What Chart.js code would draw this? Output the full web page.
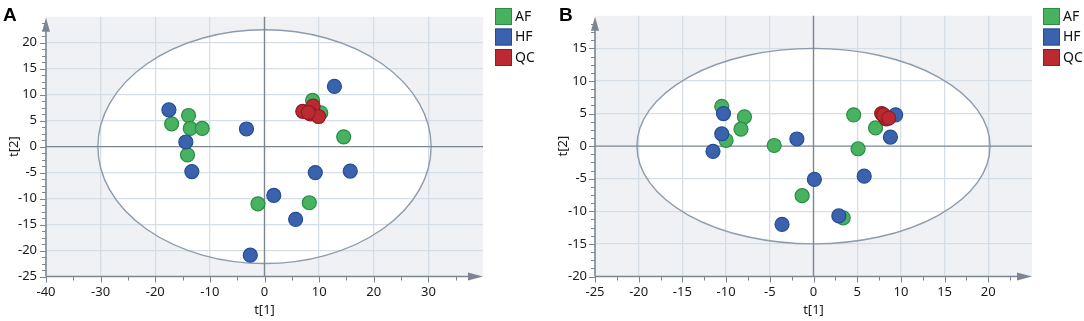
<!DOCTYPE html>
<html>
<head>
<meta charset="utf-8">
<script src="https://cdn.jsdelivr.net/npm/chart.js@4.4.1/dist/chart.umd.min.js"></script>
<style>
  body { margin: 0; background: #fff; width: 1084px; height: 321px; overflow: hidden; position: relative; }
  canvas { position: absolute; top: 0; }
  #chartA { left: 0; }
  #chartB { left: 542px; }
  .tag { position: absolute; top: 4px; font: bold 19px "Liberation Sans", Arial, sans-serif; color: #000; }
</style>
</head>
<body>
<canvas id="chartA" width="542" height="321"></canvas>
<canvas id="chartB" width="542" height="321"></canvas>
<div class="tag" style="left:3px">A</div>
<div class="tag" style="left:559px">B</div>
<script>
// groups and colours
const groups = ["AF", "HF", "QC"];
const fillColors = ["#47b260", "#3b63ad", "#bb2a31"];
const edgeColors = ["#2d8c44", "#244c94", "#8f1c22"];

// panel A scores, [t1, t2]
const afA = [[-17.0, 4.4], [-13.9, 6.0], [-13.6, 3.5], [-11.4, 3.5], [-14.1, -1.6],
             [8.8, 8.9], [10.3, 6.5], [14.5, 1.9], [8.2, -10.8], [-1.2, -11.0]];
const hfA = [[-17.5, 7.1], [-14.4, 0.9], [-13.3, -4.8], [-3.3, 3.4], [12.8, 11.6],
             [9.3, -5.0], [15.7, -4.7], [1.7, -9.4], [5.7, -14.0], [-2.6, -20.9]];
const qcA = [[7.0, 6.8], [8.9, 7.8], [8.4, 6.3], [9.9, 5.8], [8.0, 6.6]];

// panel B scores, [t1, t2]
const afB = [[-10.5, 6.1], [-7.9, 4.5], [-8.3, 2.6], [-10.0, 0.9], [-4.5, 0.1],
             [-1.3, -7.6], [4.6, 4.8], [7.1, 2.8], [5.1, -0.4], [3.4, -11.0]];
const hfB = [[-10.3, 5.0], [-10.5, 1.9], [-11.5, -0.8], [-1.9, 1.1], [0.1, -5.1],
             [-3.6, -12.0], [9.4, 4.8], [8.8, 1.4], [5.8, -4.6], [2.9, -10.7]];
const qcB = [[7.8, 5.0], [8.1, 4.6], [8.3, 4.2], [8.0, 4.8], [8.6, 4.3]];

// axis ranges and steps
const xRangeA = [-40, 40], yRangeA = [-25, 25];
const xStepA = 10, xMinorA = 5, yStepA = 5, yMinorA = 1.25;
const xRangeB = [-25, 25], yRangeB = [-20, 20];
const xStepB = 5, xMinorB = 2.5, yStepB = 5, yMinorB = 1.25;

// Hotelling T2 ellipse radii
const ellipseA = [30.5, 22.5];
const ellipseB = [20.2, 15.0];

const gridColor = "#d5dde7";
const axisColor = "#7c8691";
const tickFont = { family: "'Noto Sans', 'Open Sans', sans-serif", size: 13 };

const toPoints = arr => arr.map(p => ({ x: p[0], y: p[1] }));

function drawAxisDecor(chart, o) {
  const ctx = chart.ctx;
  const a = chart.chartArea;
  const xs = chart.scales.x, ys = chart.scales.y;
  const x0 = xs.getPixelForValue(0), y0 = ys.getPixelForValue(0);
  const rx = xs.getPixelForValue(o.ellipse[0]) - x0;
  const ry = y0 - ys.getPixelForValue(o.ellipse[1]);
  ctx.save();
  // ellipse outline
  ctx.strokeStyle = "#8d9cab";
  ctx.lineWidth = 1.4;
  ctx.beginPath();
  ctx.ellipse(x0, y0, rx, ry, 0, 0, Math.PI * 2);
  ctx.stroke();
  // zero lines
  ctx.strokeStyle = axisColor;
  ctx.lineWidth = 1.4;
  ctx.beginPath();
  ctx.moveTo(x0, a.top); ctx.lineTo(x0, a.bottom);
  ctx.moveTo(a.left, y0); ctx.lineTo(a.right, y0);
  ctx.stroke();
  // axis lines
  ctx.lineWidth = 1.6;
  ctx.beginPath();
  ctx.moveTo(a.left, a.bottom); ctx.lineTo(a.left, a.top + 8);
  ctx.moveTo(a.left, a.bottom); ctx.lineTo(a.right - 8, a.bottom);
  ctx.stroke();
  // arrows
  ctx.fillStyle = axisColor;
  ctx.beginPath();
  ctx.moveTo(a.left, a.top + 1); ctx.lineTo(a.left - 4, a.top + 15); ctx.lineTo(a.left + 4, a.top + 15); ctx.closePath();
  ctx.fill();
  ctx.beginPath();
  ctx.moveTo(a.right, a.bottom); ctx.lineTo(a.right - 15, a.bottom - 4); ctx.lineTo(a.right - 15, a.bottom + 4); ctx.closePath();
  ctx.fill();
  // ticks
  ctx.lineWidth = 1;
  ctx.beginPath();
  for (let v = o.xr[0]; v < o.xr[1] - 1e-6; v += o.xMinor) {
    const px = Math.round(xs.getPixelForValue(v)) + 0.5;
    const major = Math.abs(v / o.xStep - Math.round(v / o.xStep)) < 1e-6;
    ctx.moveTo(px, a.bottom); ctx.lineTo(px, a.bottom + (major ? 6 : 4));
  }
  for (let v = o.yr[0]; v < o.yr[1] - 1e-6; v += o.yMinor) {
    const py = Math.round(ys.getPixelForValue(v)) + 0.5;
    const major = Math.abs(v / o.yStep - Math.round(v / o.yStep)) < 1e-6;
    ctx.moveTo(a.left, py); ctx.lineTo(a.left - (major ? 6 : 4), py);
  }
  ctx.stroke();
  ctx.restore();
}

function drawLegend(chart, lx) {
  const ctx = chart.ctx;
  ctx.save();
  groups.forEach((g, i) => {
    const top = 8 + i * 20.5;
    ctx.fillStyle = fillColors[i];
    ctx.fillRect(lx, top, 17, 17);
    ctx.strokeStyle = edgeColors[i];
    ctx.lineWidth = 1;
    ctx.strokeRect(lx + 0.5, top + 0.5, 16, 16);
    ctx.fillStyle = "#111";
    ctx.font = "14px 'Noto Sans', 'Open Sans', sans-serif";
    ctx.textBaseline = "middle";
    ctx.fillText(g, lx + 20, top + 9);
  });
  ctx.restore();
}

function makePanel(id, o) {
  const sets = [o.af, o.hf, o.qc].map((arr, i) => ({
    label: groups[i],
    data: toPoints(arr),
    backgroundColor: fillColors[i],
    borderColor: edgeColors[i],
    borderWidth: 1.2,
    pointRadius: 7,
    order: 3 - i
  }));

  const decor = {
    id: "decor" + id,
    beforeDraw(chart) {
      const ctx = chart.ctx, a = chart.chartArea;
      const xs = chart.scales.x, ys = chart.scales.y;
      const x0 = xs.getPixelForValue(0), y0 = ys.getPixelForValue(0);
      ctx.save();
      ctx.fillStyle = "#eff1f5";
      ctx.fillRect(a.left, a.top, a.right - a.left, a.bottom - a.top);
      ctx.fillStyle = "#ffffff";
      ctx.beginPath();
      ctx.ellipse(x0, y0, xs.getPixelForValue(o.ellipse[0]) - x0, y0 - ys.getPixelForValue(o.ellipse[1]), 0, 0, Math.PI * 2);
      ctx.fill();
      ctx.restore();
    },
    beforeDatasetsDraw(chart) { drawAxisDecor(chart, o); },
    afterDraw(chart) { drawLegend(chart, o.legendX); }
  };

  const gridFn = (lo, hi) => c => {
    const v = c.tick.value;
    return (v === 0 || v === lo || v === hi) ? "rgba(0,0,0,0)" : gridColor;
  };

  return new Chart(document.getElementById(id), {
    type: "scatter",
    data: { datasets: sets },
    options: {
      responsive: false,
      animation: false,
      layout: { padding: { left: 0, top: 15, right: o.padRight, bottom: 0 } },
      plugins: { legend: { display: false }, tooltip: { enabled: false } },
      scales: {
        x: {
          type: "linear", min: o.xr[0], max: o.xr[1],
          afterFit: s => { s.height = 44.5; },
          grid: { color: gridFn(o.xr[0], o.xr[1]), lineWidth: 1.3, drawTicks: false },
          border: { display: false },
          ticks: {
            stepSize: o.xStep, padding: 8, color: "#1a1a1a", font: tickFont, maxRotation: 0,
            callback: v => v === o.xr[1] ? "" : v
          },
          title: { display: true, text: "t[1]", color: "#1a1a1a", font: tickFont, padding: { top: 3, bottom: 3 } }
        },
        y: {
          type: "linear", min: o.yr[0], max: o.yr[1],
          afterFit: s => { s.width = o.yAxisWidth; },
          grid: { color: gridFn(o.yr[0], o.yr[1]), lineWidth: 1.3, drawTicks: false },
          border: { display: false },
          ticks: {
            stepSize: o.yStep, padding: o.yPad, color: "#1a1a1a", font: tickFont,
            callback: v => v === o.yr[1] ? "" : v
          },
          title: { display: true, text: "t[2]", color: "#1a1a1a", font: tickFont, padding: { top: o.titlePad, bottom: o.titlePad } }
        }
      }
    },
    plugins: [decor]
  });
}

makePanel("chartA", {
  af: afA, hf: hfA, qc: qcA,
  xr: xRangeA, yr: yRangeA, xStep: xStepA, xMinor: xMinorA, yStep: yStepA, yMinor: yMinorA,
  ellipse: ellipseA, padRight: 59, yAxisWidth: 46, yPad: 9, titlePad: 6, legendX: 495
});

makePanel("chartB", {
  af: afB, hf: hfB, qc: qcB,
  xr: xRangeB, yr: yRangeB, xStep: xStepB, xMinor: xMinorB, yStep: yStepB, yMinor: yMinorB,
  ellipse: ellipseB, padRight: 52, yAxisWidth: 53, yPad: 8, titlePad: 13, legendX: 501
});
</script>
</body>
</html>
